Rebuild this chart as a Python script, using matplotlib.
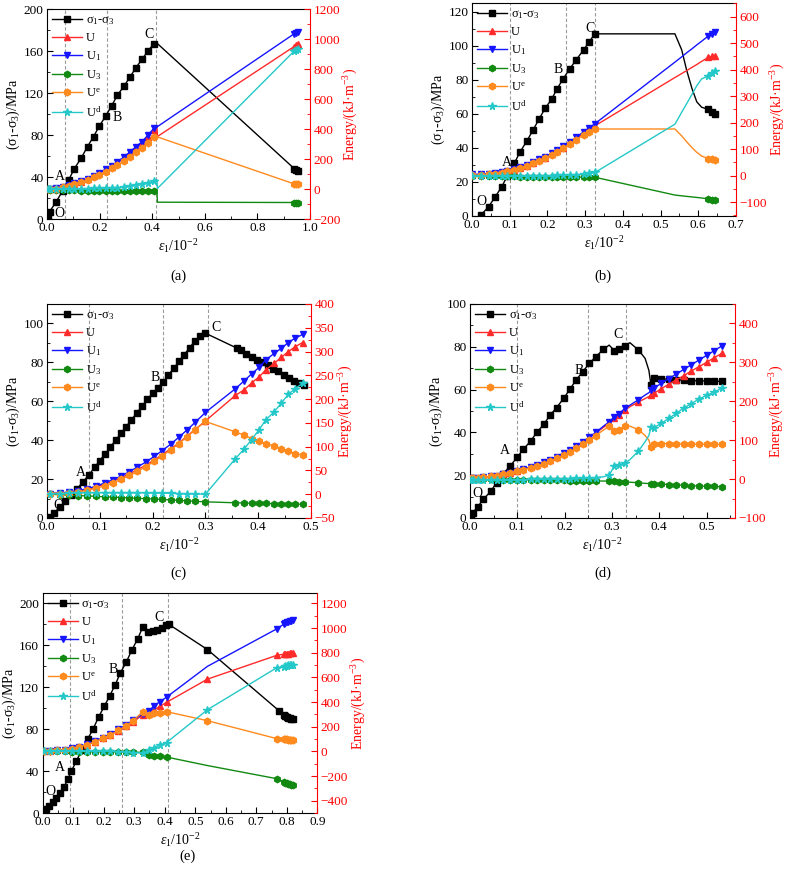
import numpy as np
import matplotlib
matplotlib.use("Agg")
import matplotlib.pyplot as plt
from matplotlib.ticker import MultipleLocator

plt.rcParams['font.family'] = ['Liberation Serif', 'DejaVu Serif']
plt.rcParams['mathtext.fontset'] = 'custom'
plt.rcParams['mathtext.rm'] = 'Liberation Serif'
plt.rcParams['mathtext.it'] = 'Liberation Serif:italic'
plt.rcParams['mathtext.bf'] = 'Liberation Serif:bold'
plt.rcParams['font.size'] = 10
plt.rcParams['xtick.direction'] = 'in'
plt.rcParams['ytick.direction'] = 'in'

nan = np.nan

# ---------------- panel (a) ----------------
a_x = [0.004, 0.01, 0.035, 0.06, 0.082, 0.104, 0.13, 0.154, 0.177, 0.199, 0.223, 0.246, 0.268, 0.294,
       0.316, 0.338, 0.361, 0.384, 0.406, 0.418, 0.42, 0.94, 0.947, 0.955]
a_sig = [1, 7, 16.5, 27, 37, 48, 58, 69, 78.5, 88.5, 98, 108, 118, 127, 135.5, 144, 152, 160, 167, 168,
         167, 48, 46.5, 45.5]
a_U = [0, 0, 3, 12, 24, 36, 50, 66, 85, 105, 128, 150, 175, 207, 240, 272, 305, 350, 393, 415, 350,
       950, 958, 965]
a_U1 = [0, 0, 4, 14, 26, 38, 53, 69, 89, 109, 133, 156, 182, 215, 249, 282, 315, 360, 404, 412, 416,
        1035, 1042, 1049]
a_U3 = [-3, -4, -5, -7, -8, -9, -10, -11, -11, -12, -12, -13, -13, -14, -14, -15, -15, -16, -16, -16,
        -88, -90, -90, -90]
a_Ue = [0, 0, 3, 11, 22, 33, 46, 60, 77, 95, 116, 137, 160, 188, 216, 245, 275, 310, 344, 348, 347,
        34, 32, 31]
a_Ud = [-3, -3, -2, -1, 0, 1, 2, 3, 4, 5, 6, 8, 10, 14, 18, 25, 33, 42, 52, 62, 4, 920, 926, 932]

# ---------------- panel (b) ----------------
b_x = [0.0, 0.024, 0.044, 0.062, 0.079, 0.094, 0.112, 0.128, 0.146, 0.162, 0.178, 0.194, 0.211, 0.225,
       0.241, 0.259, 0.276, 0.296, 0.311, 0.326, 0.538, 0.556, 0.569, 0.583, 0.596, 0.609, 0.627,
       0.636, 0.644]
b_sig = [nan, 0.6, 5.5, 11.4, 17.2, 23.7, 30.9, 37.8, 44.2, 50.5, 57, 63.2, 68.5, 74.4, 80.3, 86.3,
         91.6, 97.5, 102.4, 106.9, 106.9, 97.5, 85.7, 75, 67, 63.8, 62.6, 60.9, 59.7]
b_U = [2, 3, 5, 8, 11, 16, 23, 30, 38, 48, 58, 68, 80, 93, 106, 122, 139, 160, 175, 188, 370, 385,
       396, 408, 419, 431, 446, 450, 453]
b_U1 = [5, 6, 8, 11, 14, 19, 26, 34, 42, 52, 62, 72, 84, 98, 111, 127, 144, 166, 181, 196, 428, 448,
        463, 478, 493, 507, 527, 535, 541]
b_U3 = [-3, -3, -3, -3, -3, -3, -3, -4, -4, -4, -4, -4, -4, -5, -5, -5, -5, -6, -6, -6, -73, -76,
        -78, -80, -82, -84, -88, -90, -91]
b_Ue = [2, 3, 5, 8, 11, 16, 23, 30, 38, 47, 57, 67, 79, 91, 104, 119, 135, 154, 166, 176, 176, 150,
        128, 106, 88, 74, 64, 62, 59]
b_Ud = [-3, -3, -3, -3, -2, -2, -2, -2, -1, -1, -1, -1, 0, 1, 2, 3, 4, 6, 9, 12, 194, 239, 271, 306,
        339, 365, 376, 386, 395]

# ---------------- panel (c) ----------------
c_xs = [0.005, 0.013, 0.024, 0.035, 0.046, 0.057, 0.068, 0.079, 0.09, 0.1, 0.11, 0.12, 0.13, 0.14,
        0.15, 0.16, 0.17, 0.18, 0.19, 0.2, 0.21, 0.22, 0.23, 0.24, 0.25, 0.26, 0.27, 0.28, 0.29, 0.3,
        0.359, 0.3675, 0.377, 0.3875, 0.3975, 0.408, 0.419, 0.428, 0.438, 0.449, 0.458, 0.4675,
        0.477, 0.486]
c_sig = [0.5, 2.5, 5.5, 8.5, 12, 15, 18.5, 22, 26, 29.5, 33, 36.5, 40, 43.5, 47, 50.5, 54, 57.5, 61,
         64, 67, 70, 73.5, 77, 80.5, 84, 87.5, 91, 93.5, 95, 87.4, 86.2, 84.5, 82.8, 81.4, 80, 78.5,
         76.6, 75.4, 73.7, 72, 70.6, 69.4, 68.5]
c_xe = [0.006, 0.024, 0.042, 0.059, 0.076, 0.093, 0.109, 0.125, 0.14, 0.156, 0.171, 0.187, 0.203,
        0.218, 0.234, 0.25, 0.265, 0.281, 0.3, 0.357, 0.374, 0.3875, 0.402, 0.414, 0.43, 0.444, 0.457,
        0.47, 0.484]
c_U = [2, 3, 4.5, 7, 10.5, 15.5, 21, 27.5, 34.5, 43, 51.5, 61, 72, 83, 95.5, 108, 122, 136.5, 154,
       208, 220, 234, 247, 261, 275, 288, 300, 310, 319]
c_U1 = [1, 2, 4.5, 7.5, 11.5, 17, 23.5, 30.5, 38, 47.5, 57, 67.5, 79.5, 91.5, 105, 120, 135, 151.5,
        172, 222, 239, 253, 267, 282, 296, 307, 319, 328, 336]
c_U3 = [0, -1, -2, -3, -3.5, -4.5, -5.5, -6, -7, -8, -8.5, -9.5, -10, -11, -12, -13, -14, -15, -16,
        -18, -18.5, -19, -19, -19.5, -20, -20, -20.5, -21, -21]
c_Ue = [1, 1.5, 3, 5, 8, 12.5, 17.5, 24, 31, 39.5, 48, 58, 69, 80.5, 93, 106.5, 120.5, 136, 153,
        131, 124, 117, 111.5, 106.5, 101.5, 96, 91, 85.5, 82]
c_Ud = [1, 1.5, 2, 2.5, 3, 3, 3.5, 3.5, 3.5, 3.5, 3.5, 3, 3, 2.5, 2, 1.5, 1, 0.5, 0,
        75, 96, 115, 136, 156, 173, 192, 210, 222, 233]

# ---------------- panel (d) ----------------
d_x = [0.002, 0.006, 0.016, 0.028, 0.044, 0.056, 0.07, 0.085, 0.1, 0.113, 0.128, 0.142, 0.156, 0.169,
       0.183, 0.199, 0.211, 0.225, 0.238, 0.252, 0.266, 0.282, 0.294, 0.305, 0.315, 0.3275, 0.338,
       0.356, 0.37, 0.378, 0.3825, 0.388, 0.404, 0.42, 0.436, 0.452, 0.468, 0.484, 0.5, 0.516, 0.532]
d_sig = [0.8, 2.5, 5.1, 8.7, 12.5, 16.5, 20.7, 24.3, 28.5, 32.1, 36, 40.2, 43.8, 48, 51.6, 56.2, 60.2,
         64.7, 68.3, 72.2, 75.4, 78.8, 80.8, 78.2, 79, 80.6, 81.9, 78.5, 74.6, 69, 62, 65.2, 65, 64.8,
         64.6, 64.4, 64.2, 64.1, 64, 63.9, 63.8]
d_U = [3, 3, 4, 5, 7, 9, 12, 16, 21, 25, 31, 36, 42, 49, 57, 66, 74, 84, 94, 106, 118, 133, 143, 157,
       164, 177, 186, 198, 207, 212, 215, 220, 232, 244, 255, 266, 278, 289, 300, 312, 323]
d_U1 = [3, 3, 4, 5, 7, 9, 12, 16, 21, 25, 31, 37, 43, 50, 58, 68, 76, 86, 96, 108, 120, 136, 147, 160,
        168, 182, 190, 204, 216, 222, 228, 233, 246, 258, 270, 282, 294, 306, 318, 330, 342]
d_U3 = [-1, -1, -1, -1, -1, -1, -2, -2, -2, -2, -2, -3, -3, -3, -3, -3, -4, -4, -4, -4, -5, -5, -5,
        -6, -6.5, -7.5, -8, -9.5, -11, -11.5, -12, -12.5, -13, -14, -15, -16, -17, -18, -18.5, -19, -20]
d_Ue = [4, 4, 4, 5, 7, 9, 12, 15, 20, 24, 29, 34, 40, 46, 53, 62, 69, 79, 89, 100, 112, 126, 136, 124,
        127, 137, 136, 127, 112, 100, 82, 90, 91, 91, 90.5, 90, 90, 89.5, 89.5, 89, 89]
d_Ud = [-3, -3, -3, -3, -3, -2, -2, -2, -2, -2, -1, -1, -1, 0, 0, 1, 1, 2, 2, 3, 4, 6, 10, 34, 37, 41,
        50, 72, 96, 112, 133, 132, 143, 156, 169, 183, 194, 206, 215, 224, 233]

# ---------------- panel (e) ----------------
e_xs = [0.004, 0.012, 0.022, 0.033, 0.045, 0.058, 0.07, 0.082, 0.094, 0.11, 0.128, 0.147, 0.165,
        0.183, 0.202, 0.219, 0.238, 0.254, 0.274, 0.292, 0.311, 0.328, 0.334, 0.346, 0.36, 0.374,
        0.39, 0.403, 0.414, 0.54, 0.775, 0.79, 0.795, 0.80, 0.805, 0.81, 0.815, 0.82]
e_sig = [1, 4, 7, 10.5, 14.5, 19, 25, 32, 40, 49.5, 60, 70.5, 80, 91.5, 102, 111.5, 122.5, 133.5, 144,
         155.5, 166, 177.5, 178, 173, 173.5, 174.5, 176.5, 179, 180, 156, 97.5, 93.5, 92.5, 91.5, 91,
         90.5, 90, 89.5]
e_xe = [0.005, 0.024, 0.048, 0.073, 0.095, 0.12, 0.146, 0.171, 0.197, 0.221, 0.248, 0.273, 0.297,
        0.328, 0.349, 0.365, 0.384, 0.406, 0.54, 0.768, 0.79, 0.795, 0.80, 0.805, 0.81, 0.815, 0.82]
e_U = [2, 4, 8, 14, 23, 36, 55, 78, 105, 133, 168, 203, 240, 298, 300, 338, 365, 398, 586, 780, 788,
       790, 792, 793, 795, 796, 797]
e_U1 = [2, 4, 8, 15, 24, 38, 58, 82, 110, 140, 178, 215, 255, 303, 330, 370, 402, 440, 690, 995, 1032,
        1040, 1046, 1051, 1055, 1059, 1062]
e_U3 = [0, 0, -1, -1, -2, -2, -3, -3, -4, -4, -5, -5, -6, -8, -33, -38, -41, -46, -115, -222, -250,
        -255, -260, -264, -268, -271, -273]
e_Ue = [2, 4, 8, 14, 23, 36, 55, 78, 105, 133, 170, 208, 250, 322, 298, 311, 311, 322, 249, 103, 100,
        98, 97, 96, 96, 95, 95]
e_Ud = [0, 0, 0, 0, 0, 0, 0, 0, 0, 0, -2, -5, -10, -15, 10, 30, 52, 72, 338, 680, 688, 692, 695, 697,
        699, 701, 702]

LABELS = ['σ$_1$-σ$_3$', 'U', 'U$_1$', 'U$_3$', 'U$^\\mathrm{e}$', 'U$^\\mathrm{d}$']
STY = {
    'U': dict(color='#ff2a2a', marker='^', ms=4.3),
    'U1': dict(color='#1515ff', marker='v', ms=4.3),
    'U3': dict(color='#128a12', marker='h', ms=4.6),
    'Ue': dict(color='#ff8a1e', marker='h', ms=4.8),
    'Ud': dict(color='#25c8c8', marker='*', ms=5.5),
}

fig = plt.figure(figsize=(7.85, 8.81), dpi=100)
W, H = 785.0, 881.0


def rect(l, r, t, b):
    return [l / W, 1 - b / H, (r - l) / W, (b - t) / H]


def panel(box, xs, sig, sig_mk, xe, en, en_mk, xlim, xmaj, ylim, ymaj, y2lim, y2maj,
          vlines, letters, tag, tagxy):
    ax = fig.add_axes(box)
    ax2 = ax.twinx()
    for xv in vlines:
        ax.axvline(xv, color='#9a9a9a', lw=0.8, ls=(0, (3, 2)), zorder=0)
    h0, = ax.plot(xs, sig, color='black', lw=1.0, marker='s', ms=3.8, markevery=sig_mk)
    hs = [h0]
    for key, yv in zip(['U', 'U1', 'U3', 'Ue', 'Ud'], en):
        st = STY[key]
        mk = en_mk.get(key, en_mk['all'])
        h, = ax2.plot(xe, yv, color=st['color'], lw=1.0, marker=st['marker'], ms=st['ms'],
                      markevery=mk, mec=st['color'], mfc=st['color'])
        hs.append(h)
    ax.set_xlim(*xlim)
    ax.set_ylim(*ylim)
    ax2.set_ylim(*y2lim)
    ax.xaxis.set_major_locator(MultipleLocator(xmaj))
    ax.xaxis.set_minor_locator(MultipleLocator(xmaj / 2))
    ax.yaxis.set_major_locator(MultipleLocator(ymaj))
    ax.yaxis.set_minor_locator(MultipleLocator(ymaj / 2))
    ax2.yaxis.set_major_locator(MultipleLocator(y2maj))
    ax2.yaxis.set_minor_locator(MultipleLocator(y2maj / 2))
    ax.xaxis.set_major_formatter(matplotlib.ticker.FormatStrFormatter('%.1f'))
    ax.tick_params(which='major', length=4, width=0.8, top=False, labelsize=9.5, pad=2.5)
    ax.tick_params(which='minor', length=2, width=0.6, top=False)
    ax2.tick_params(axis='y', which='both', colors='red', labelsize=9.5, pad=2.5)
    ax2.tick_params(which='major', length=4, width=0.8)
    ax2.tick_params(which='minor', length=2, width=0.6)
    ax.spines['right'].set_visible(False)
    for s in ['left', 'top', 'bottom']:
        ax2.spines[s].set_visible(False)
    ax2.spines['right'].set_color('red')
    ax.set_ylabel('(σ$_1$-σ$_3$)/MPa', fontsize=10, labelpad=1)
    ax2.set_ylabel('Energy/(kJ·m$^{-3}$)', color='red', fontsize=10, labelpad=1)
    ax.set_xlabel('$ε_1$/10$^{-2}$', fontsize=10, labelpad=2)
    for txt, (tx, ty) in letters.items():
        ax.text(tx, ty, txt, ha='center', va='center', fontsize=10)
    ax2.legend(hs, LABELS, loc='upper left', frameon=False, fontsize=9, handlelength=2.4,
               handletextpad=0.3, labelspacing=0.42, borderaxespad=0.2, borderpad=0.2)
    fig.text(tagxy[0] / W, 1 - tagxy[1] / H, tag, ha='center', va='center', fontsize=10.5)
    return ax, ax2


# (a)
a_mk = [i for i in range(len(a_x)) if i not in (19, 20)]
panel(rect(47, 310, 9, 219), a_x, a_sig, a_mk, a_x, [a_U, a_U1, a_U3, a_Ue, a_Ud], {'all': a_mk},
      (0, 1.0), 0.2, (0, 200), 40, (-200, 1200), 200, [0.07, 0.23, 0.415],
      {'O': (0.047, 5), 'A': (0.048, 40), 'B': (0.268, 97), 'C': (0.386, 176)}, '(a)', (178, 276))

# (b)
b_mk = list(range(0, 20)) + [26, 27, 28]
panel(rect(472, 736, 3, 216), b_x, b_sig, b_mk, b_x, [b_U, b_U1, b_U3, b_Ue, b_Ud], {'all': b_mk},
      (0, 0.7), 0.1, (0, 125), 20, (-152, 651), 100, [0.1, 0.25, 0.325],
      {'O': (0.026, 8.4), 'A': (0.092, 31.4), 'B': (0.229, 86), 'C': (0.313, 110)}, '(b)', (603, 276))

# (c)
panel(rect(47, 311, 304, 518), c_xs, c_sig, None, c_xe, [c_U, c_U1, c_U3, c_Ue, c_Ud], {'all': None},
      (0, 0.5), 0.1, (0, 110), 20, (-50, 400), 50, [0.08, 0.22, 0.305],
      {'O': (0.021, 6.5), 'A': (0.064, 23.2), 'B': (0.205, 72), 'C': (0.32, 97.8)}, '(c)', (178, 573))

# (d)
d_mk_s = [i for i in range(len(d_x)) if i not in (22, 26, 28, 29)]
d_mk_e = [i for i in range(len(d_x)) if i not in (21, 26, 28, 29)]
panel(rect(470, 735, 304, 518), d_x, d_sig, d_mk_s, d_x, [d_U, d_U1, d_U3, d_Ue, d_Ud], {'all': d_mk_e},
      (0, 0.56), 0.1, (0, 100), 20, (-100, 450), 100, [0.1, 0.25, 0.33],
      {'O': (0.0155, 11.4), 'A': (0.074, 31.7), 'B': (0.23, 69), 'C': (0.313, 85.8)}, '(d)', (603, 573))

# (e)
e_mk_s = [i for i in range(len(e_xs)) if i != 22]
e_mk_e = list(range(len(e_xe)))
e_mk_no = [i for i in range(len(e_xe)) if i != 18]
panel(rect(42.7, 317.3, 593, 813), e_xs, e_sig, e_mk_s, e_xe, [e_U, e_U1, e_U3, e_Ue, e_Ud],
      {'all': e_mk_e, 'U1': e_mk_no, 'U3': e_mk_no},
      (0, 0.9), 0.1, (0, 210), 40, (-500, 1285), 200, [0.09, 0.26, 0.41],
      {'O': (0.024, 20.7), 'A': (0.057, 43), 'B': (0.231, 137), 'C': (0.382, 187)}, '(e)', (188, 856))

fig.savefig('out.png', dpi=100)
